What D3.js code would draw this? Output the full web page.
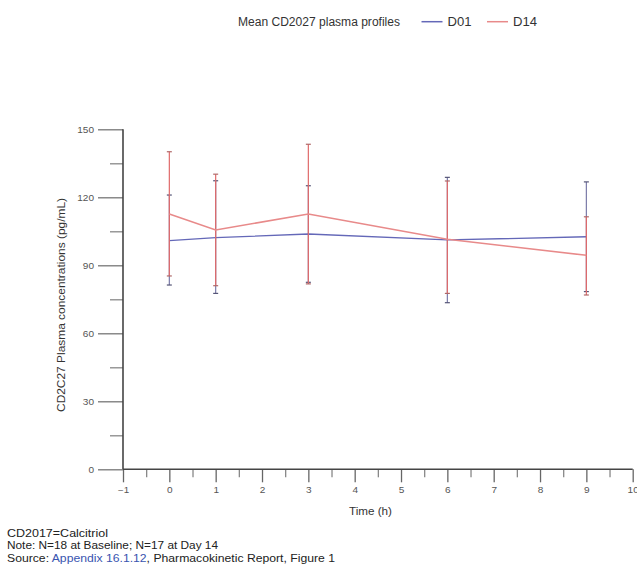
<!DOCTYPE html>
<html><head><meta charset="utf-8">
<script src="https://cdn.jsdelivr.net/npm/d3@7"></script>
<style>body{margin:0;background:#fff}svg{display:block}</style>
</head><body>
<svg id="c" width="637" height="567"></svg>
<script>
const times = [0, 1, 3, 6, 9];
const d01Mean = [100.9, 102.2, 103.8, 101.2, 102.6];
const d01Upper = [121.0, 127.3, 125.1, 128.8, 126.8];
const d01Lower = [81.3, 77.6, 82.5, 73.5, 78.4];
const d14Mean = [112.6, 105.6, 112.6, 101.5, 94.4];
const d14Upper = [140.1, 130.2, 143.4, 127.2, 111.4];
const d14Lower = [85.3, 81.0, 81.8, 77.6, 76.9];
const seriesNames = ["D01", "D14"];
const xTicks = [-1,0,1,2,3,4,5,6,7,8,9,10];
const yTicks = [0,30,60,90,120,150];

const svg = d3.select("#c");
const x = d3.scaleLinear().domain([-1, 10]).range([123, 632.7]);
const y = d3.scaleLinear().domain([0, 150]).range([469.3, 129.3]);
const FONT = "'Liberation Sans', Arial, sans-serif";

function stretchTicks(sel) {
  sel.selectAll(".tick text").attr("fill", "#555").style("font", "8.5px " + FONT)
    .attr("textLength", function() { return this.textContent.length * 5.6; })
    .attr("lengthAdjust", "spacingAndGlyphs");
}

// y axis
const yAxis = d3.axisLeft(y).tickValues(yTicks).tickSize(25).tickPadding(4).tickFormat(d3.format("d"));
const gy = svg.append("g").attr("transform", "translate(123,0)").call(yAxis);
gy.select(".domain").remove();
gy.selectAll(".tick line").attr("stroke", "#777").attr("stroke-width", 1.3);
stretchTicks(gy);
const yMinor = d3.axisLeft(y).tickValues([15,45,75,105,135]).tickSize(13).tickFormat("");
const gym = svg.append("g").attr("transform", "translate(123,0)").call(yMinor);
gym.select(".domain").remove();
gym.selectAll(".tick line").attr("stroke", "#888").attr("stroke-width", 1.3);

// x axis
const xAxis = d3.axisBottom(x).tickValues(xTicks).tickSize(13).tickPadding(5).tickFormat(d3.format("d"));
const gx = svg.append("g").attr("transform", "translate(0,469.3)").call(xAxis);
gx.select(".domain").remove();
gx.selectAll(".tick line").attr("stroke", "#666").attr("stroke-width", 1.3);
stretchTicks(gx);
const xMinor = d3.axisBottom(x).tickValues(d3.range(-0.5, 10, 1)).tickSize(8).tickFormat("");
const gxm = svg.append("g").attr("transform", "translate(0,469.3)").call(xMinor);
gxm.select(".domain").remove();
gxm.selectAll(".tick line").attr("stroke", "#888").attr("stroke-width", 1.3);

// axis lines
svg.append("line").attr("x1", x(-1)).attr("x2", x(-1)).attr("y1", y(150)).attr("y2", y(0))
  .attr("stroke", "#444").attr("stroke-width", 1.6);
svg.append("line").attr("x1", x(-1)).attr("x2", x(10)).attr("y1", y(0)).attr("y2", y(0))
  .attr("stroke", "#444").attr("stroke-width", 1.6);

// axis titles
svg.append("text").attr("x", 349).attr("y", 515)
  .attr("textLength", 43).attr("lengthAdjust", "spacingAndGlyphs")
  .style("font", "10.5px " + FONT).attr("fill", "#333").text("Time (h)");
svg.append("text").attr("transform", "translate(65,305) rotate(-90)").attr("text-anchor", "middle")
  .attr("textLength", 214).attr("lengthAdjust", "spacingAndGlyphs")
  .style("font", "10.5px " + FONT).attr("fill", "#333")
  .text("CD2C27 Plasma concentrations (pg/mL)");

function drawSeries(mean, up, lo, lineCol, barCol, capCol, lw) {
  const data = times.map((t, i) => ({t, m: mean[i], u: up[i], l: lo[i]}));
  const g = svg.append("g");
  g.selectAll("line.eb").data(data).join("line")
    .attr("x1", d => x(d.t)).attr("x2", d => x(d.t))
    .attr("y1", d => y(d.u)).attr("y2", d => y(d.l))
    .attr("stroke", barCol).attr("stroke-width", 1.2);
  ["u", "l"].forEach(k => {
    g.selectAll("line.cap" + k).data(data).join("line")
      .attr("x1", d => x(d.t) - 2.5).attr("x2", d => x(d.t) + 2.5)
      .attr("y1", d => y(d[k])).attr("y2", d => y(d[k]))
      .attr("stroke", capCol).attr("stroke-width", 1.2);
  });
  g.append("path").datum(data)
    .attr("d", d3.line().x(d => x(d.t)).y(d => y(d.m)))
    .attr("fill", "none").attr("stroke", lineCol).attr("stroke-width", lw);
}
drawSeries(d01Mean, d01Upper, d01Lower, "#6468b8", "#7a7aa8", "#555577", 1.3);
drawSeries(d14Mean, d14Upper, d14Lower, "#e88a8a", "#e06a6a", "#b06868", 1.6);

// legend
const lf = "12px " + FONT;
svg.append("text").attr("x", 238).attr("y", 26).style("font", lf).attr("fill", "#333")
  .attr("textLength", 162).attr("lengthAdjust", "spacingAndGlyphs")
  .text("Mean CD2027 plasma profiles");
const legCols = ["#6468b8", "#e88a8a"];
const legX = [421.5, 487];
seriesNames.forEach((n, i) => {
  svg.append("line").attr("x1", legX[i]).attr("x2", legX[i] + 21).attr("y1", 21.7).attr("y2", 21.7)
    .attr("stroke", legCols[i]).attr("stroke-width", 1.5);
  svg.append("text").attr("x", legX[i] + 26).attr("y", 26).style("font", lf).attr("fill", "#333")
    .attr("textLength", 24).attr("lengthAdjust", "spacingAndGlyphs").text(n);
});

// footnotes
const ff = "11px " + FONT;
svg.append("text").attr("x", 7).attr("y", 536.5).style("font", ff).attr("fill", "#222")
  .attr("textLength", 101).attr("lengthAdjust", "spacingAndGlyphs").text("CD2017=Calcitriol");
svg.append("text").attr("x", 7).attr("y", 549).style("font", ff).attr("fill", "#222")
  .attr("textLength", 211).attr("lengthAdjust", "spacingAndGlyphs").text("Note: N=18 at Baseline; N=17 at Day 14");
const src = svg.append("text").attr("x", 7).attr("y", 561.5).style("font", ff).attr("fill", "#222")
  .attr("textLength", 328).attr("lengthAdjust", "spacingAndGlyphs");
src.append("tspan").text("Source: ");
src.append("tspan").attr("fill", "#3a55b0").text("Appendix 16.1.12");
src.append("tspan").text(", Pharmacokinetic Report, Figure 1");
</script>
</body></html>
